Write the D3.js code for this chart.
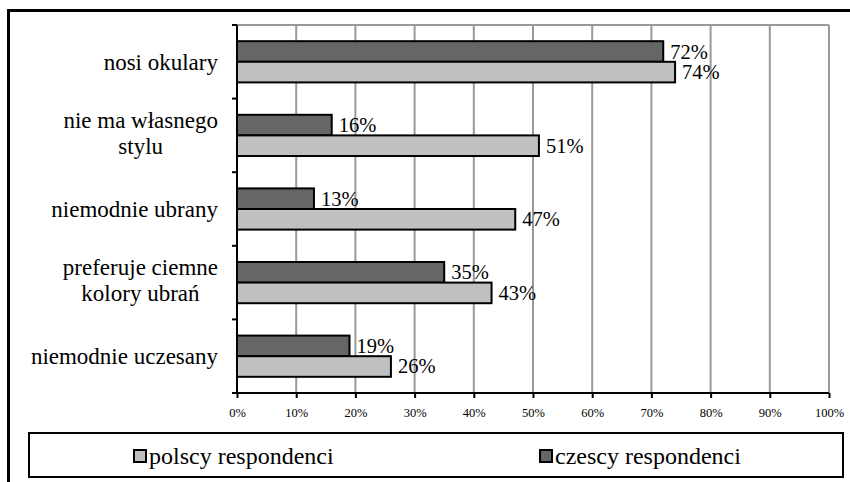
<!DOCTYPE html>
<html>
<head>
<meta charset="utf-8">
<script src="https://cdn.jsdelivr.net/npm/d3@7"></script>
<style>
  html, body { margin: 0; padding: 0; background: #fff; }
  svg { display: block; }
  text { font-family: "Liberation Serif", "Times New Roman", serif; fill: #000; }
</style>
</head>
<body>
<svg id="chart" width="850" height="482"></svg>
<script>
// Categories (top to bottom); "\n" marks a line break in the axis label
const categories = [
  "nosi okulary",
  "nie ma własnego\nstylu",
  "niemodnie ubrany",
  "preferuje ciemne\nkolory ubrań",
  "niemodnie uczesany"
];
const seriesNames = ["czescy respondenci", "polscy respondenci"];
const czechValues = [72, 16, 13, 35, 19];
const polishValues = [74, 51, 47, 43, 26];
const tickValues = [0, 10, 20, 30, 40, 50, 60, 70, 80, 90, 100];

const colors = { "czescy respondenci": "#666666", "polscy respondenci": "#c0c0c0" };

const svg = d3.select("#chart");

// Outer frame (left and top edges)
svg.append("line").attr("x1", 8.5).attr("x2", 8.5).attr("y1", 9).attr("y2", 482)
  .attr("stroke", "#000").attr("stroke-width", 3);
svg.append("line").attr("x1", 7).attr("x2", 850).attr("y1", 10.5).attr("y2", 10.5)
  .attr("stroke", "#000").attr("stroke-width", 3);

const plot = { left: 237, right: 829, top: 25, bottom: 393 };

const x = d3.scaleLinear().domain([0, 100]).range([plot.left, plot.right]);
const y = d3.scaleBand().domain(categories).range([plot.top, plot.bottom])
  .paddingInner(0.44).paddingOuter(0.22);
const ySub = d3.scaleBand().domain(seriesNames).range([0, y.bandwidth()]);

// Gridlines
svg.append("g").selectAll("line").data(tickValues.slice(1)).join("line")
  .attr("x1", d => x(d)).attr("x2", d => x(d))
  .attr("y1", plot.top).attr("y2", plot.bottom)
  .attr("stroke", "#999").attr("stroke-width", 2);
svg.append("line").attr("x1", plot.left).attr("x2", plot.right)
  .attr("y1", plot.top).attr("y2", plot.top)
  .attr("stroke", "#999").attr("stroke-width", 2);

// Bars
const rows = categories.map((c, i) => ({
  category: c,
  values: [
    { series: "czescy respondenci", value: czechValues[i] },
    { series: "polscy respondenci", value: polishValues[i] }
  ]
}));

const groups = svg.append("g").selectAll("g").data(rows).join("g")
  .attr("transform", d => `translate(0,${y(d.category)})`);

groups.selectAll("rect").data(d => d.values).join("rect")
  .attr("x", x(0))
  .attr("y", d => ySub(d.series))
  .attr("width", d => x(d.value) - x(0))
  .attr("height", ySub.bandwidth())
  .attr("fill", d => colors[d.series])
  .attr("stroke", "#000").attr("stroke-width", 2);

groups.selectAll("text").data(d => d.values).join("text")
  .attr("x", d => x(d.value) + 7)
  .attr("y", d => ySub(d.series) + ySub.bandwidth() / 2 + 7)
  .attr("font-size", 20.5)
  .text(d => d.value + "%");

// Value axis
const xAxis = d3.axisBottom(x).tickValues(tickValues).tickFormat(d => d + "%")
  .tickSize(5).tickSizeOuter(0);
const gx = svg.append("g").attr("transform", `translate(0,${plot.bottom})`).call(xAxis);
gx.select(".domain").attr("stroke", "#000").attr("stroke-width", 2)
  .attr("d", `M${plot.left - 5},0H${plot.right}`);
gx.selectAll(".tick line").attr("stroke", "#000").attr("stroke-width", 2);
gx.selectAll(".tick text")
  .attr("font-family", "Liberation Serif, Times New Roman, serif")
  .attr("font-size", 12.5).attr("dy", null).attr("y", 24);

// Category axis
const catTicks = d3.range(categories.length + 1).map(i => plot.top + i * y.step());
svg.append("line").attr("x1", plot.left).attr("x2", plot.left)
  .attr("y1", plot.top).attr("y2", plot.bottom)
  .attr("stroke", "#000").attr("stroke-width", 2);
svg.append("g").selectAll("line").data(catTicks).join("line")
  .attr("x1", plot.left - 5).attr("x2", plot.left)
  .attr("y1", d => d).attr("y2", d => d)
  .attr("stroke", "#000").attr("stroke-width", 2);

// Category labels: multi-line blocks centred, block right-aligned to the axis
const labelRight = 218, catFont = 23, lineH = 25.5;
const catLabels = svg.append("g").selectAll("text").data(categories).join("text")
  .attr("font-size", catFont)
  .attr("text-anchor", "middle");
catLabels.each(function (d) {
  const t = d3.select(this);
  const lines = d.split("\n");
  const cy = y(d) + y.bandwidth() / 2;
  const shift = lines.length > 1 ? 5.5 : 8;
  lines.forEach((ln, i) => {
    t.append("tspan").text(ln)
      .attr("y", cy + (i - (lines.length - 1) / 2) * lineH + shift);
  });
  const widths = [];
  t.selectAll("tspan").each(function () { widths.push(this.getComputedTextLength()); });
  const maxW = d3.max(widths);
  t.selectAll("tspan").attr("x", labelRight - maxW / 2);
});

// Legend
const legend = svg.append("g");
legend.append("rect").attr("x", 29).attr("y", 433).attr("width", 814).attr("height", 44)
  .attr("fill", "#fff").attr("stroke", "#000").attr("stroke-width", 2);
const legendItems = [
  { series: "polscy respondenci", x: 133 },
  { series: "czescy respondenci", x: 539 }
];
const li = legend.selectAll("g").data(legendItems).join("g")
  .attr("transform", d => `translate(${d.x},449)`);
li.append("rect").attr("x", 1).attr("y", 1).attr("width", 12).attr("height", 12)
  .attr("fill", d => colors[d.series]).attr("stroke", "#000").attr("stroke-width", 2);
li.append("text").attr("x", 16).attr("y", 14.5).attr("font-size", 24).text(d => d.series);
</script>
</body>
</html>
